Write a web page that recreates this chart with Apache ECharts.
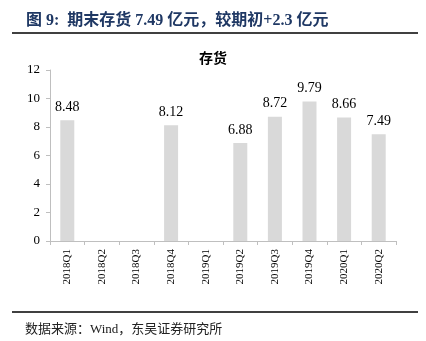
<!DOCTYPE html>
<html><head><meta charset="utf-8">
<script src="https://cdn.jsdelivr.net/npm/echarts@6/dist/echarts.min.js"></script>
<style>html,body{margin:0;padding:0;background:#fff}#c{width:426px;height:341px}</style>
</head><body><div id="c"></div>
<script>
const categories = ['2018Q1','2018Q2','2018Q3','2018Q4','2019Q1','2019Q2','2019Q3','2019Q4','2020Q1','2020Q2'];
const inventory = [8.48, null, null, 8.12, null, 6.88, 8.72, 9.79, 8.66, 7.49];
const yTicks = {min: 0, max: 12, interval: 2};
const headerText = '图 9:  期末存货 7.49 亿元，较期初+2.3 亿元';
const chartTitle = '存货';
const footerText = '数据来源：Wind，东吴证券研究所';

const serif = '"Liberation Serif", "Noto Sans CJK SC", serif';
const chart = echarts.init(document.getElementById('c'), null, {renderer: 'canvas'});
chart.setOption({
  animation: false,
  backgroundColor: '#fff',
  title: [
    {text: headerText, left: 21, top: 8, textStyle: {fontFamily: serif, fontSize: 16, fontWeight: 'bold', color: '#1f3864'}},
    {text: chartTitle, left: 'center', top: 47, textStyle: {fontFamily: serif, fontSize: 14, fontWeight: 'bold', color: '#000'}},
    {text: footerText, left: 20, top: 318, textStyle: {fontFamily: serif, fontSize: 13, fontWeight: 'normal', color: '#222'}}
  ],
  graphic: [
    {type: 'line', shape: {x1: 12, y1: 33, x2: 418, y2: 33}, style: {stroke: '#000', lineWidth: 1.5}},
    {type: 'line', shape: {x1: 12, y1: 312, x2: 418, y2: 312}, style: {stroke: '#000', lineWidth: 1.5}}
  ],
  grid: {left: 50, right: 30, top: 70, bottom: 100, containLabel: false},
  xAxis: {
    type: 'category', data: categories,
    axisLine: {lineStyle: {color: '#bfbfbf'}},
    axisTick: {show: true, length: 4, lineStyle: {color: '#bfbfbf'}},
    axisLabel: {rotate: 90, fontFamily: serif, fontSize: 11, color: '#000', margin: 8}
  },
  yAxis: {
    type: 'value', min: yTicks.min, max: yTicks.max, interval: yTicks.interval,
    axisLine: {show: true, lineStyle: {color: '#bfbfbf'}},
    axisTick: {show: true, length: 4, lineStyle: {color: '#bfbfbf'}},
    splitLine: {show: false},
    axisLabel: {fontFamily: serif, fontSize: 13, color: '#000', margin: 10}
  },
  series: [{
    type: 'bar', data: inventory, barWidth: 14,
    itemStyle: {color: '#d9d9d9'},
    label: {show: true, position: 'top', distance: 6, fontFamily: serif, fontSize: 14, color: '#000',
      formatter: p => p.value.toFixed(2)}
  }]
});
</script></body></html>
